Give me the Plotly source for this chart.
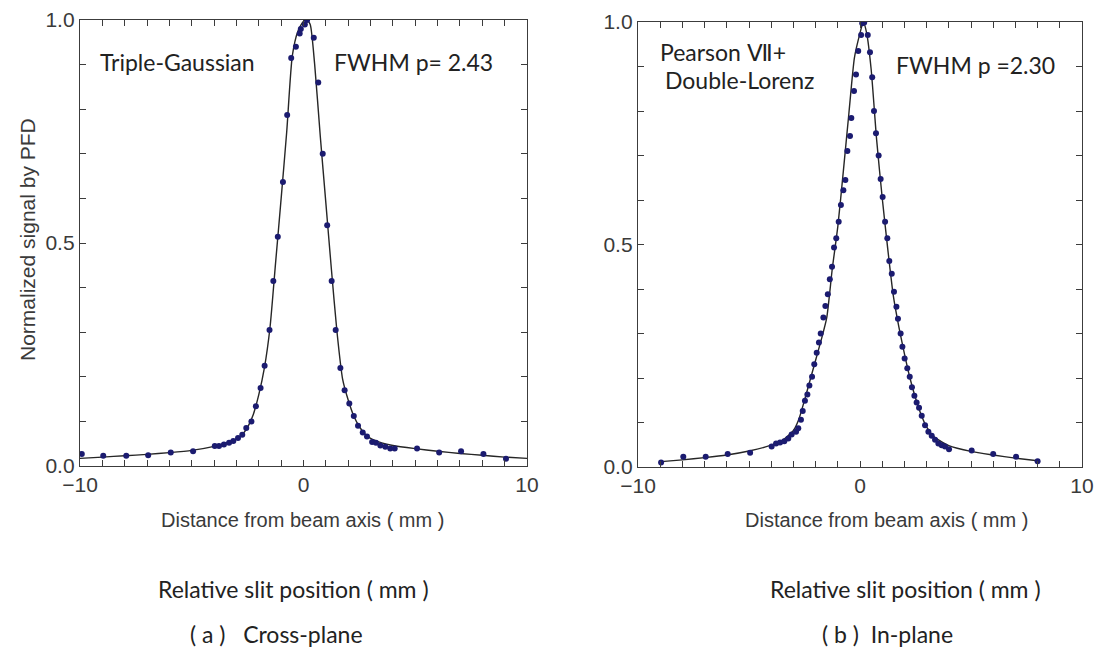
import plotly.graph_objects as go

# Measured profiles: (a) cross-plane, (b) in-plane
cross_x = [-9.92, -8.96, -7.93, -6.95, -5.94, -4.94, -3.97, -3.78, -3.56, -3.33, -3.14, -2.93,
           -2.74, -2.56, -2.33, -2.13, -1.92, -1.74, -1.52, -1.35, -1.15, -0.92, -0.73, -0.55,
           -0.34, -0.17, -0.12, 0.06, 0.16, 0.46, 0.66, 0.86, 1.06, 1.26, 1.44, 1.65, 1.84,
           2.05, 2.25, 2.44, 2.65, 2.84, 3.07, 3.24, 3.44, 3.66, 3.88, 4.08, 5.08, 6.07, 7.05,
           8.05, 9.06]
cross_y = [0.027, 0.023, 0.023, 0.024, 0.030, 0.033, 0.045, 0.045, 0.048, 0.052, 0.056, 0.063,
           0.070, 0.085, 0.100, 0.134, 0.175, 0.225, 0.305, 0.415, 0.514, 0.637, 0.787, 0.915,
           0.940, 0.970, 0.980, 0.990, 1.000, 0.960, 0.860, 0.700, 0.540, 0.415, 0.305, 0.220,
           0.170, 0.140, 0.112, 0.090, 0.075, 0.066, 0.054, 0.052, 0.046, 0.043, 0.039, 0.039,
           0.039, 0.030, 0.033, 0.027, 0.016]

# Triple-Gaussian fit curve (cross-plane)
cross_fit_x = [-10, -9, -8, -7, -6, -5, -4, -3.5, -3, -2.75, -2.5, -2.25, -2, -1.75, -1.5,
               -1.25, -1, -0.75, -0.5, -0.25, 0, 0.15, 0.3, 0.5, 0.75, 1, 1.25, 1.5, 1.75, 2,
               2.25, 2.5, 2.75, 3, 3.5, 4, 5, 6, 7, 8, 9, 10]
cross_fit_y = [0.017, 0.020, 0.023, 0.026, 0.030, 0.035, 0.044, 0.051, 0.061, 0.070, 0.087,
               0.115, 0.160, 0.220, 0.310, 0.455, 0.600, 0.750, 0.920, 0.975, 0.997, 1.000,
               0.990, 0.900, 0.740, 0.590, 0.440, 0.300, 0.195, 0.148, 0.112, 0.088, 0.072,
               0.062, 0.052, 0.046, 0.039, 0.033, 0.028, 0.024, 0.020, 0.017]

in_x = [-8.96, -7.96, -6.95, -5.96, -4.95, -3.98, -3.78, -3.60, -3.41, -3.23, -3.08, -2.88,
        -2.78, -2.66, -2.58, -2.48, -2.37, -2.28, -2.16, -2.06, -1.95, -1.85, -1.77, -1.65,
        -1.56, -1.45, -1.36, -1.26, -1.17, -1.07, -0.96, -0.86, -0.75, -0.66, -0.57, -0.45,
        -0.39, -0.27, -0.18, -0.08, 0.05, 0.10, 0.19, 0.35, 0.45, 0.55, 0.63, 0.72, 0.84,
        0.93, 1.02, 1.13, 1.23, 1.32, 1.43, 1.53, 1.64, 1.71, 1.83, 1.91, 2.01, 2.13, 2.24,
        2.34, 2.45, 2.55, 2.66, 2.78, 2.93, 3.08, 3.23, 3.38, 3.53, 3.68, 3.83, 4.01, 5.03,
        6.00, 7.03, 8.00]
in_y = [0.010, 0.023, 0.023, 0.029, 0.032, 0.046, 0.053, 0.055, 0.058, 0.064, 0.073, 0.079,
        0.087, 0.106, 0.126, 0.149, 0.163, 0.183, 0.203, 0.231, 0.257, 0.280, 0.300, 0.336,
        0.362, 0.388, 0.422, 0.450, 0.493, 0.514, 0.551, 0.589, 0.622, 0.645, 0.710, 0.744,
        0.784, 0.845, 0.882, 0.935, 0.971, 0.997, 0.999, 0.971, 0.932, 0.876, 0.800, 0.750,
        0.700, 0.647, 0.607, 0.551, 0.514, 0.463, 0.434, 0.394, 0.360, 0.333, 0.300, 0.270,
        0.244, 0.222, 0.203, 0.179, 0.160, 0.145, 0.133, 0.115, 0.094, 0.079, 0.070, 0.061,
        0.053, 0.049, 0.046, 0.040, 0.037, 0.029, 0.023, 0.013]

# Pearson VII + double-Lorentz fit curve (in-plane)
in_fit_x = [-8.96, -8, -7, -6, -5, -4, -3.5, -3, -2.75, -2.5, -2.25, -2, -1.75, -1.5, -1.25,
            -1, -0.75, -0.5, -0.25, 0, 0.15, 0.3, 0.5, 0.75, 1, 1.25, 1.5, 1.75, 2, 2.25,
            2.5, 2.75, 3, 3.25, 3.5, 4, 5, 6, 7, 8]
in_fit_y = [0.012, 0.016, 0.021, 0.027, 0.036, 0.049, 0.060, 0.082, 0.108, 0.150, 0.195,
            0.240, 0.285, 0.335, 0.445, 0.540, 0.665, 0.795, 0.920, 0.975, 1.000, 0.975,
            0.895, 0.735, 0.605, 0.490, 0.385, 0.315, 0.255, 0.200, 0.155, 0.118, 0.090,
            0.072, 0.062, 0.048, 0.035, 0.027, 0.020, 0.014]

x_tick_vals = list(range(-10, 11))
x_tick_text = ["\u221210" if v == -10 else ("0" if v == 0 else ("10" if v == 10 else ""))
               for v in x_tick_vals]
y_tick_vals = [round(0.1 * i, 1) for i in range(11)]
y_tick_text = ["0.0", "", "", "", "", "0.5", "", "", "", "", "1.0"]

W, H = 1103, 654
PT_COLOR = "#1b1b70"
LINE_COLOR = "#262626"
FRAME = "#3c3c3c"
TICK_FONT = dict(family="Liberation Sans, Arial, sans-serif", size=21, color="#3a3a3a")
TEXT_FONT = dict(family="Lato, Open Sans, sans-serif", size=23, color="#222222")

fig = go.Figure()

fig.add_trace(go.Scatter(x=cross_fit_x, y=cross_fit_y, mode="lines",
                         line=dict(color=LINE_COLOR, width=1.4, shape="spline", smoothing=0.6),
                         xaxis="x", yaxis="y", showlegend=False))
fig.add_trace(go.Scatter(x=cross_x, y=cross_y, mode="markers",
                         marker=dict(color=PT_COLOR, size=6),
                         xaxis="x", yaxis="y", showlegend=False))
fig.add_trace(go.Scatter(x=in_fit_x, y=in_fit_y, mode="lines",
                         line=dict(color=LINE_COLOR, width=1.4, shape="spline", smoothing=0.6),
                         xaxis="x2", yaxis="y2", showlegend=False))
fig.add_trace(go.Scatter(x=in_x, y=in_y, mode="markers",
                         marker=dict(color=PT_COLOR, size=6),
                         xaxis="x2", yaxis="y2", showlegend=False))


def x_axis(domain, anchor):
    return dict(domain=domain, anchor=anchor, range=[-10, 10], tickmode="array",
                tickvals=x_tick_vals, ticktext=x_tick_text, ticks="inside", ticklen=6,
                tickwidth=1, tickcolor=FRAME, mirror="allticks", showline=True,
                linecolor=FRAME, linewidth=1.3, showgrid=False, zeroline=False,
                tickfont=TICK_FONT, automargin=False)


def y_axis(domain, anchor):
    return dict(domain=domain, anchor=anchor, range=[0, 1], tickmode="array",
                tickvals=y_tick_vals, ticktext=y_tick_text, ticks="inside", ticklen=6,
                tickwidth=1, tickcolor=FRAME, mirror="allticks", showline=True,
                linecolor=FRAME, linewidth=1.3, showgrid=False, zeroline=False,
                tickfont=TICK_FONT, automargin=False)


fig.update_layout(
    width=W, height=H, margin=dict(l=0, r=0, t=0, b=0, autoexpand=False),
    paper_bgcolor="white", plot_bgcolor="white",
    xaxis=x_axis([80 / W, 527 / W], "y"),
    yaxis=y_axis([1 - 466 / H, 1 - 20 / H], "x"),
    xaxis2=x_axis([638 / W, 1082 / W], "y2"),
    yaxis2=y_axis([1 - 467 / H, 1 - 22 / H], "x2"),
)

annotations = [
    # in-plot labels
    dict(text="Triple-Gaussian", x=-5.66, y=0.906, xref="x", yref="y", font=TEXT_FONT),
    dict(text="FWHM p= 2.43", x=4.94, y=0.906, xref="x", yref="y", font=TEXT_FONT),
    dict(text="Pearson \u2166+", x=-9.1, y=0.933, xref="x2", yref="y2", xanchor="left",
         font=TEXT_FONT),
    dict(text="Double-Lorenz", x=-8.87, y=0.87, xref="x2", yref="y2", xanchor="left",
         font=TEXT_FONT),
    dict(text="FWHM p =2.30", x=5.18, y=0.903, xref="x2", yref="y2", font=TEXT_FONT),
    # axis titles
    dict(text="Normalized signal by PFD", x=27 / W, y=1 - 240 / H, xref="paper",
         yref="paper", textangle=-90, font=dict(TICK_FONT, size=21)),
    dict(text="Distance from beam axis ( mm )", x=302 / W, y=1 - 520 / H, xref="paper",
         yref="paper", font=dict(TICK_FONT, size=20)),
    dict(text="Distance from beam axis ( mm )", x=886 / W, y=1 - 520 / H, xref="paper",
         yref="paper", font=dict(TICK_FONT, size=20)),
    # captions
    dict(text="Relative slit position ( mm )", x=293 / W, y=1 - 589 / H, xref="paper",
         yref="paper", font=TEXT_FONT),
    dict(text="Relative slit position ( mm )", x=905 / W, y=1 - 589 / H, xref="paper",
         yref="paper", font=TEXT_FONT),
    dict(text="( a )\u00a0\u00a0 Cross-plane", x=276 / W, y=1 - 634 / H, xref="paper",
         yref="paper", font=TEXT_FONT),
    dict(text="( b )\u00a0 In-plane", x=887 / W, y=1 - 634 / H, xref="paper",
         yref="paper", font=TEXT_FONT),
]
for a in annotations:
    a.setdefault("showarrow", False)
    a.setdefault("xanchor", "center")
    a.setdefault("yanchor", "middle")
fig.update_layout(annotations=annotations)

fig.write_html("out.html")
